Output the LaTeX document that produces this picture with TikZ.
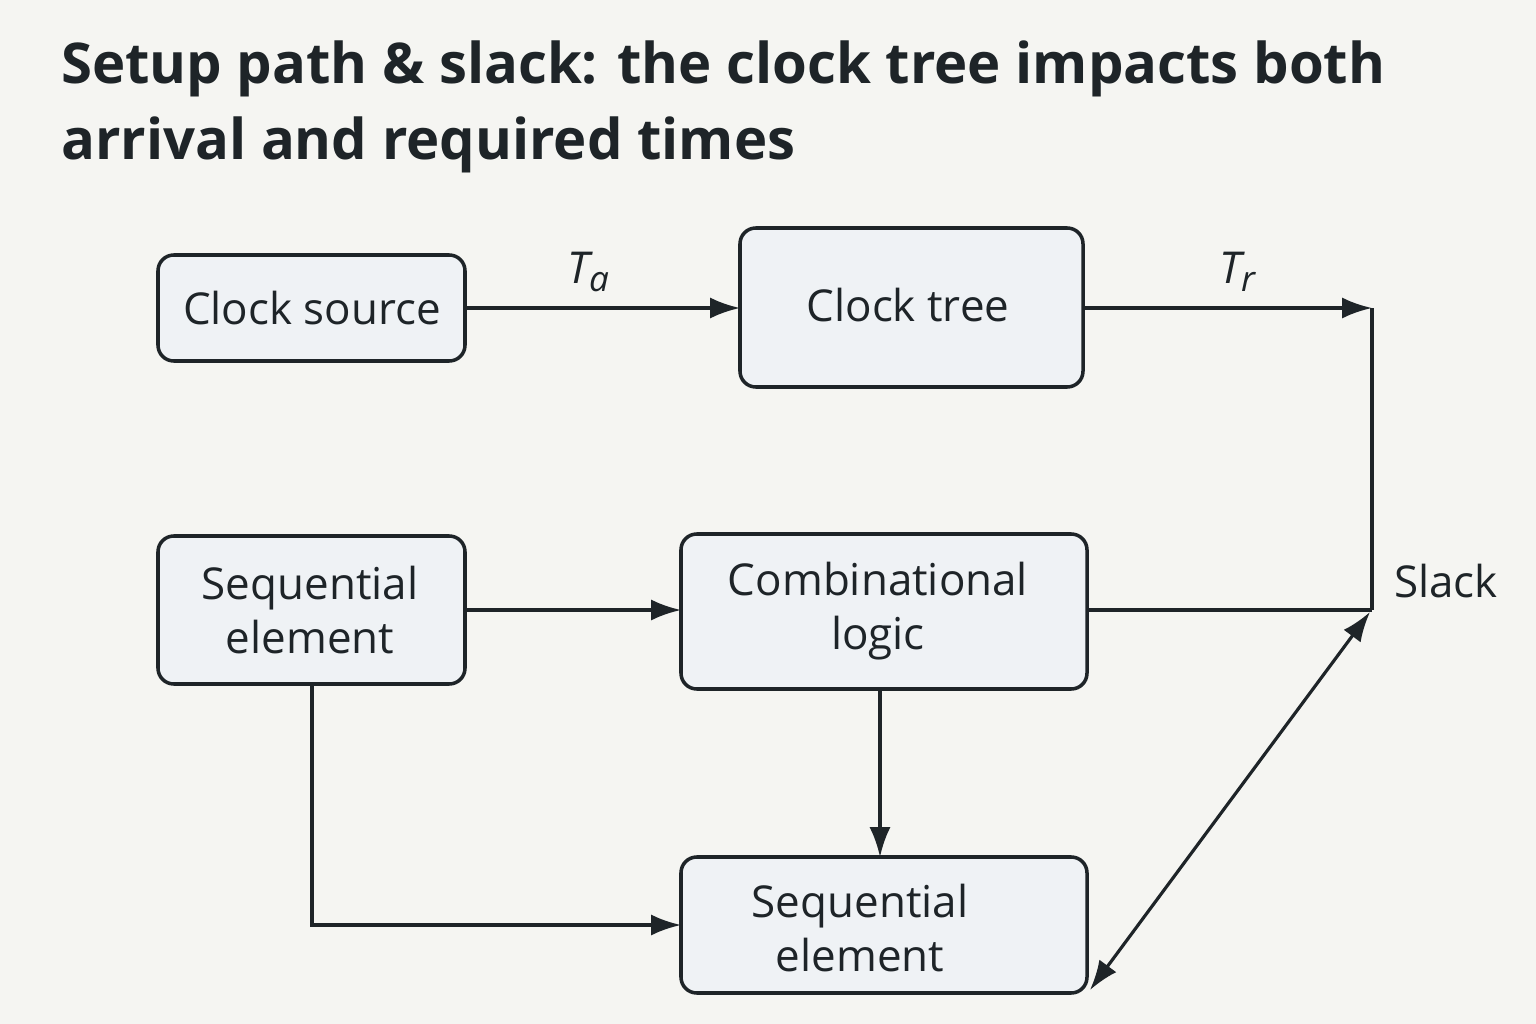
\documentclass[tikz,border=0pt]{standalone}
\usepackage{fontspec}
\setmainfont{Open Sans}
\usetikzlibrary{arrows.meta}
\definecolor{bg}{HTML}{F5F5F2}
\definecolor{bx}{HTML}{EFF2F5}
\definecolor{ink}{HTML}{1E2428}
\newcommand{\sub}[2]{{\itshape #1}\raisebox{-0.35ex}{\fontsize{20}{24}\selectfont\itshape #2}}
\begin{document}
\begin{tikzpicture}[x=0.02cm,y=-0.02cm,
  box/.style={draw=ink,line width=2pt,fill=bx,rounded corners=9pt},
  lbl/.style={font=\fontsize{25}{31}\selectfont,text=ink,align=center},
  conn/.style={draw=ink,line width=1.8pt},
  arr/.style={conn,-{Latex[length=17pt,width=12pt]}}]
\fill[bg] (0,0) rectangle (1536,1024);
\useasboundingbox (0,0) rectangle (1536,1024);
\node[anchor=north west,align=left,text=ink,font=\fontsize{32}{43}\selectfont\bfseries] (title) at (55,35)
 {Setup path \& slack: the clock tree impacts both\\arrival and required times};
\draw[box] (158,255) rectangle (465,361); \node[lbl] (cs) at (312,308) {Clock source};
\draw[box] (740,228) rectangle (1083,387); \node[lbl] (ct) at (908,305) {Clock tree};
\draw[box] (158,536) rectangle (465,684); \node[lbl] (s1) at (310,610) {Sequential\\element};
\draw[box] (681,534) rectangle (1087,689); \node[lbl] (cl) at (878,611) {Combinational\\logic};
\draw[box] (681,857) rectangle (1087,993); \node[lbl] (s2) at (860,928) {Sequential\\element};
\coordinate (tr) at (1372,308);
\coordinate (sl) at (1372,610);
\draw[arr] (465,308) -- (740,308);
\node[lbl] (ta) at (588,272) {\sub{T}{a}};
\draw[arr] (1083,308) -- (tr);
\node[lbl] (trl) at (1237,272) {\sub{T}{r}};
\draw[conn] (tr) -- (sl);
\draw[conn] (1087,610) -- (sl);
\node[lbl,anchor=west] (slack) at (1388,581) {Slack};
\draw[arr] (465,610) -- (681,610);
\draw[arr] (312,684) -- (312,925) -- (681,925);
\draw[arr] (880,689) -- (880,857);
\draw[conn,{Latex[length=17pt,width=12pt]}-{Latex[length=17pt,width=12pt]}] (1370,612) -- (1090,990);
\end{tikzpicture}
\end{document}
